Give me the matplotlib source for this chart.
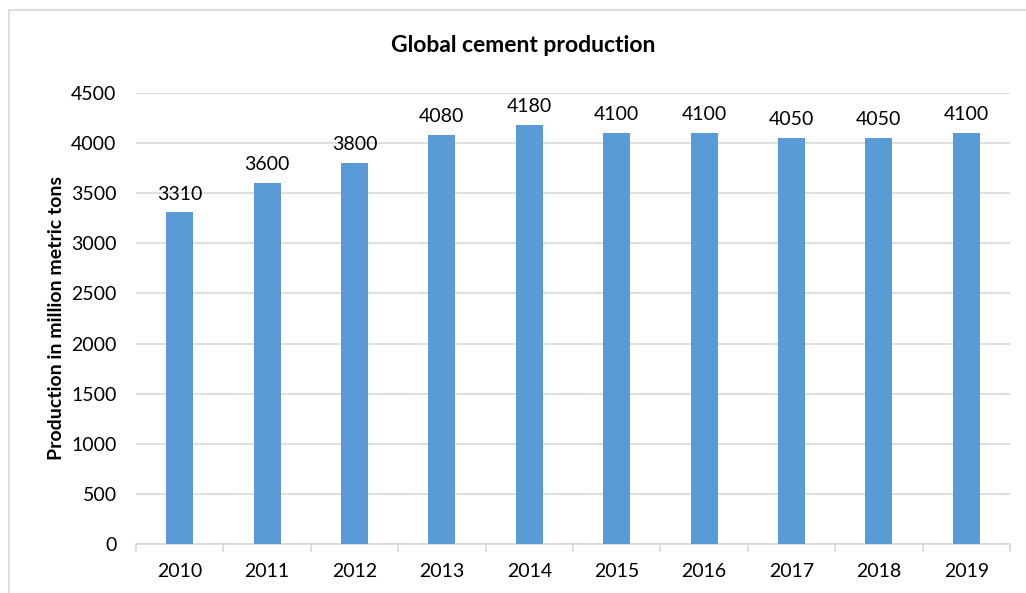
import matplotlib.pyplot as plt
from matplotlib.patches import Rectangle

years = ["2010", "2011", "2012", "2013", "2014", "2015", "2016", "2017", "2018", "2019"]
production = [3310, 3600, 3800, 4080, 4180, 4100, 4100, 4050, 4050, 4100]
y_ticks = [0, 500, 1000, 1500, 2000, 2500, 3000, 3500, 4000, 4500]

plt.rcParams['font.family'] = ['Lato', 'DejaVu Sans']

fig = plt.figure(figsize=(10.26, 5.93), dpi=100)
# chart border (only left and top visible in the reference)
fig.patches.append(Rectangle((9 / 1026, -0.05), 1.1, 1 - 10 / 593 + 0.05,
                             transform=fig.transFigure, fill=False,
                             edgecolor="#D9D9D9", linewidth=1.2))

ax = fig.add_axes([136 / 1026, 1 - 544 / 593, (1010 - 136) / 1026, (544 - 93) / 593])
x = list(range(len(years)))
ax.bar(x, production, width=0.31, color="#5B9BD5", zorder=3)

for xi, v in zip(x, production):
    ax.annotate(str(v), (xi, v), xytext=(0, 7), textcoords="offset points",
                ha="center", va="bottom", fontsize=14, color="#000000")

ax.set_xlim(-0.5, len(years) - 0.5)
ax.set_ylim(0, 4500)
ax.set_yticks(y_ticks)
ax.tick_params(axis="y", length=0, labelsize=14, pad=14)
ax.yaxis.grid(True, color="#D9D9D9", linewidth=1.2, zorder=0)

ax.set_xticks(x)
ax.set_xticklabels(years)
ax.set_xticks([i - 0.5 for i in range(len(years) + 1)], minor=True)
ax.tick_params(axis="x", which="major", length=0, labelsize=14, pad=14)
ax.tick_params(axis="x", which="minor", length=6, color="#D9D9D9", width=1.2)

for side in ["top", "right", "left"]:
    ax.spines[side].set_visible(False)
ax.spines["bottom"].set_color("#D9D9D9")
ax.spines["bottom"].set_linewidth(1.2)

fig.text(523 / 1026, 1 - 46 / 593, "Global cement production", ha="center", va="center",
         fontsize=16.5, fontweight="bold")
fig.text(57 / 1026, 1 - 318 / 593, "Production in million metric tons", ha="center", va="center",
         rotation=90, fontsize=14, fontweight="bold")

fig.savefig("out.png", dpi=100)
